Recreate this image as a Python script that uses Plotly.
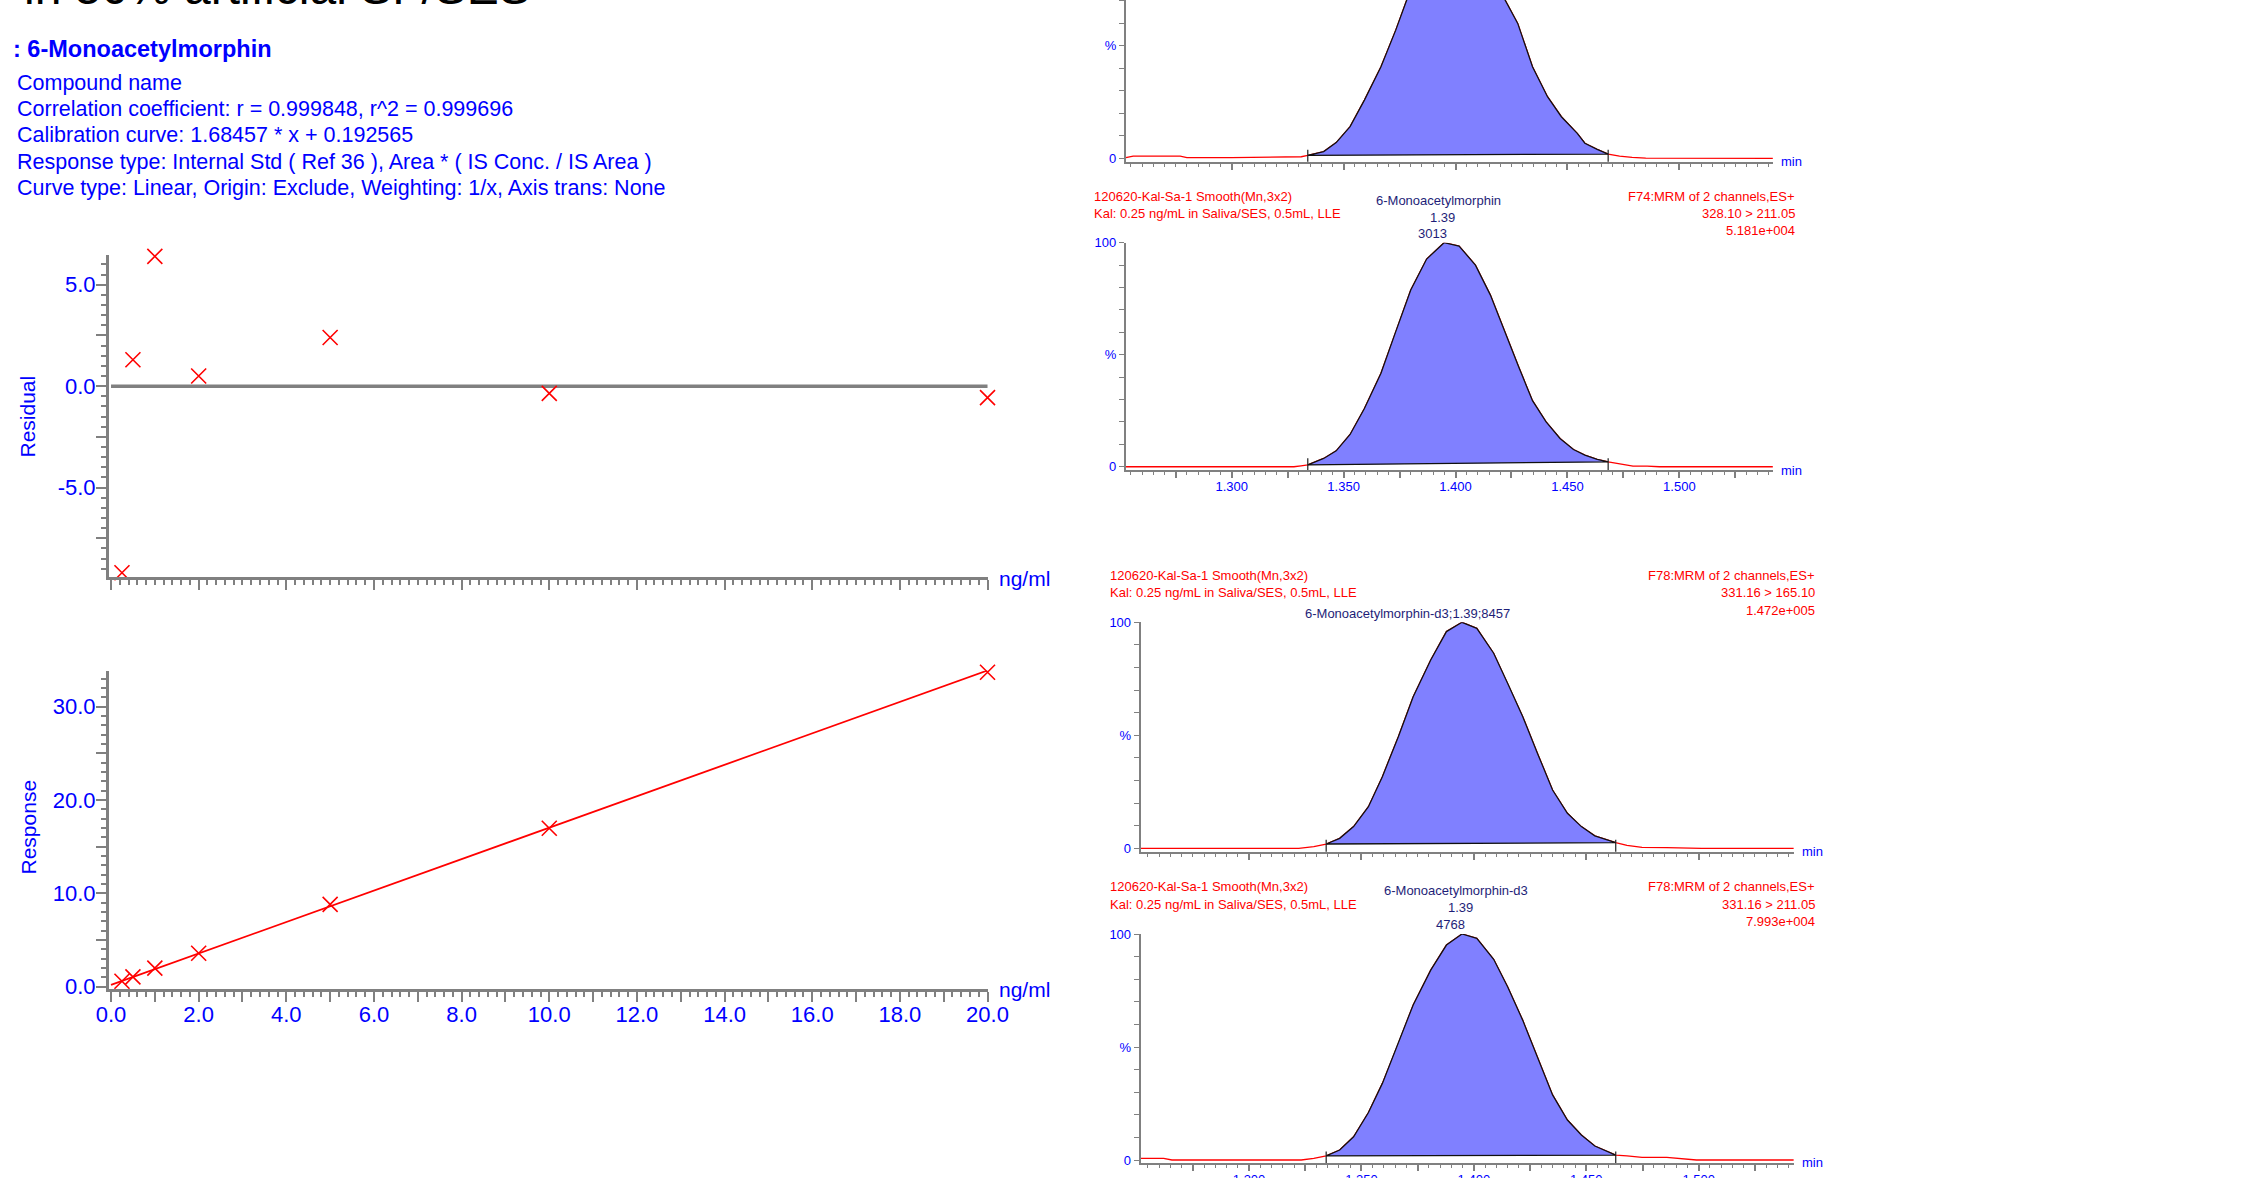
import plotly.graph_objects as go

W, H = 2268, 1178
FONT = "Liberation Sans, Arial, Helvetica, sans-serif"
BLUE = "#0000FF"
RED = "#FF0000"
NAVY = "#1E1E78"
GRAY = "#808080"
FILL = "#8080FF"

# ---------------- calibration data ----------------
CONC = [0.25, 0.5, 1.0, 2.0, 5.0, 10.0, 20.0]
RESIDUAL = [-9.2, 1.3, 6.4, 0.5, 2.4, -0.36, -0.57]
RESPONSE = [0.58, 1.05, 1.99, 3.58, 8.82, 16.98, 33.69]
SLOPE = 1.68457
INTERCEPT = 0.192565

CONC_TICKS = list(range(0, 21))
CONC_TICK_LABELS = [f"{v:.1f}" if v % 2 == 0 else "" for v in CONC_TICKS]
RES_TICKS = [-7.5, -5.0, -2.5, 0.0, 2.5, 5.0]
RES_TICK_LABELS = ["", "-5.0", "", "0.0", "", "5.0"]
RESP_TICKS = [0, 5, 10, 15, 20, 25, 30]
RESP_TICK_LABELS = ["0.0", "", "10.0", "", "20.0", "", "30.0"]

INFO_TITLE = ": 6-Monoacetylmorphin"
INFO_LINES = [
    "Compound name",
    "Correlation coefficient: r = 0.999848, r^2 = 0.999696",
    "Calibration curve: 1.68457 * x + 0.192565",
    "Response type: Internal Std ( Ref 36 ), Area * ( IS Conc. / IS Area )",
    "Curve type: Linear, Origin: Exclude, Weighting: 1/x, Axis trans: None",
]
TOP_TITLE = "in 50% artificial SF/SES"

# ---------------- chromatogram data ----------------
P1_TIME = [1.2527, 1.2560, 1.2770, 1.2800, 1.3000, 1.3311, 1.3340, 1.3411, 1.3467, 1.3529,
           1.3593, 1.3667, 1.3733, 1.3778, 1.3810, 1.3880, 1.3950, 1.4020, 1.4090, 1.4156,
           1.4222, 1.4278, 1.4344, 1.4411, 1.4473, 1.4544, 1.4578, 1.4633, 1.4682, 1.4733,
           1.4789, 1.4850, 1.5418]
P1_INT = [0.3, 1.0, 1.0, 0.3, 0.3, 0.7, 1.3, 3.0, 7.0, 14.1,
          25.9, 40.7, 57.0, 70.3, 78.0, 93.0, 100.0, 98.0, 90.0, 80.0,
          70.3, 60.0, 40.7, 27.4, 18.5, 11.1, 6.7, 4.0, 1.9, 1.0,
          0.4, 0.1, 0.0]
P1_INTEG = [1.3340, 1.4682]

P2_TIME = [1.2527, 1.3278, 1.3310, 1.3340, 1.3411, 1.3467, 1.3529, 1.3593, 1.3667, 1.3733,
           1.3800, 1.3871, 1.3949, 1.4016, 1.4089, 1.4156, 1.4222, 1.4282, 1.4344, 1.4404,
           1.4467, 1.4527, 1.4578, 1.4633, 1.4682, 1.4733, 1.4793, 1.4856, 1.4911, 1.5418]
P2_INT = [0.0, 0.0, 0.4, 0.8, 3.7, 7.1, 14.4, 26.0, 41.7, 60.3,
          78.9, 92.7, 100.0, 98.5, 90.0, 76.6, 59.5, 44.6, 29.5, 20.1,
          12.6, 7.7, 5.2, 3.3, 2.2, 1.2, 0.3, 0.3, 0.0, 0.0]
P2_INTEG = [1.3340, 1.4682]

P3_TIME = [1.2518, 1.3221, 1.3288, 1.3343, 1.3403, 1.3465, 1.3531, 1.3593, 1.3664, 1.3730,
           1.3808, 1.3878, 1.3947, 1.4013, 1.4088, 1.4150, 1.4217, 1.4283, 1.4350, 1.4416,
           1.4478, 1.4538, 1.4597, 1.4631, 1.4681, 1.4748, 1.4858, 1.5013, 1.5423]
P3_INT = [0.0, 0.0, 0.7, 1.9, 4.4, 9.6, 18.4, 31.7, 49.4, 67.1,
          83.3, 95.9, 100.0, 97.3, 86.3, 73.0, 58.3, 42.0, 25.8, 15.5,
          9.6, 5.5, 3.4, 2.5, 1.3, 0.4, 0.3, 0.0, 0.0]
P3_INTEG = [1.3343, 1.4631]

P4_TIME = [1.2518, 1.2620, 1.2657, 1.3232, 1.3288, 1.3343, 1.3403, 1.3465, 1.3531, 1.3593,
           1.3664, 1.3730, 1.3808, 1.3878, 1.3947, 1.4013, 1.4088, 1.4150, 1.4217, 1.4283,
           1.4350, 1.4416, 1.4478, 1.4538, 1.4597, 1.4631, 1.4681, 1.4748, 1.4858, 1.4925,
           1.4990, 1.5423]
P4_INT = [0.7, 0.7, 0.0, 0.0, 0.7, 1.8, 4.4, 10.3, 21.0, 33.9,
          51.6, 68.6, 84.0, 95.1, 100.0, 98.1, 88.8, 76.7, 61.9, 45.7,
          28.8, 17.7, 11.1, 6.2, 3.7, 2.2, 1.8, 1.2, 1.2, 0.7,
          0.0, 0.0]
P4_INTEG = [1.3343, 1.4631]

CHROM_TICKS = [1.275, 1.300, 1.325, 1.350, 1.375, 1.400, 1.425, 1.450, 1.475, 1.500, 1.525]
CHROM_TICK_LABELS = ["", "1.300", "", "1.350", "", "1.400", "", "1.450", "", "1.500", ""]
PCT_TICKS = [0, 10, 20, 30, 40, 50, 60, 70, 80, 90, 100]
PCT_TICK_LABELS = ["0", "", "", "", "", "%", "", "", "", "", "100"]

HEADER_LEFT = ["120620-Kal-Sa-1 Smooth(Mn,3x2)", "Kal: 0.25 ng/mL in Saliva/SES, 0.5mL, LLE"]
P2_RIGHT = ["F74:MRM of 2 channels,ES+", "328.10 > 211.05", "5.181e+004"]
P3_RIGHT = ["F78:MRM of 2 channels,ES+", "331.16 > 165.10", "1.472e+005"]
P4_RIGHT = ["F78:MRM of 2 channels,ES+", "331.16 > 211.05", "7.993e+004"]
P2_LABEL = ["6-Monoacetylmorphin", "1.39", "3013"]
P3_LABEL = ["6-Monoacetylmorphin-d3;1.39;8457"]
P4_LABEL = ["6-Monoacetylmorphin-d3", "1.39", "4768"]


def xd(a, b):
    return [a / W, b / W]


def yd(top, bottom):
    return [max(0.0, 1 - bottom / H), min(1.0, 1 - top / H)]


def px(x):
    return x / W


def py(y):
    return 1 - y / H


fig = go.Figure()

# ---------------- calibration traces ----------------
fig.add_trace(go.Scatter(x=CONC, y=RESIDUAL, mode="markers", xaxis="x", yaxis="y",
                         marker=dict(symbol="x-thin", size=15, line=dict(color=RED, width=1.6)),
                         cliponaxis=False, showlegend=False))
fit_x = [0.0, max(CONC)]
fit_y = [SLOPE * v + INTERCEPT for v in fit_x]
fig.add_trace(go.Scatter(x=fit_x, y=fit_y, mode="lines", xaxis="x2", yaxis="y2",
                         line=dict(color=RED, width=1.8), showlegend=False))
fig.add_trace(go.Scatter(x=CONC, y=RESPONSE, mode="markers", xaxis="x2", yaxis="y2",
                         marker=dict(symbol="x-thin", size=15, line=dict(color=RED, width=1.6)),
                         cliponaxis=False, showlegend=False))

fig.add_shape(type="line", xref="x", yref="y", x0=0, x1=max(CONC), y0=0, y1=0,
              line=dict(color=GRAY, width=3.5), layer="below")


# ---------------- chromatogram traces ----------------
def add_chrom(times, ints, integ, xa, ya):
    fig.add_trace(go.Scatter(x=times, y=ints, mode="lines", xaxis=xa, yaxis=ya,
                             line=dict(color=RED, width=1.3), showlegend=False))
    seg = [(t, v) for t, v in zip(times, ints) if integ[0] - 1e-9 <= t <= integ[1] + 1e-9]
    sx = [p[0] for p in seg] + [seg[0][0]]
    sy = [p[1] for p in seg] + [seg[0][1]]
    fig.add_trace(go.Scatter(x=sx, y=sy, mode="lines", fill="toself", fillcolor=FILL,
                             xaxis=xa, yaxis=ya, line=dict(color="#101010", width=1.3),
                             showlegend=False))
    for t in integ:
        fig.add_trace(go.Scatter(x=[t, t], y=[-2.2, 3.8], mode="lines", xaxis=xa, yaxis=ya,
                                 line=dict(color="#202020", width=1.2), cliponaxis=False,
                                 showlegend=False))


add_chrom(P1_TIME, P1_INT, P1_INTEG, "x3", "y3")
add_chrom(P2_TIME, P2_INT, P2_INTEG, "x4", "y4")
add_chrom(P3_TIME, P3_INT, P3_INTEG, "x5", "y5")
add_chrom(P4_TIME, P4_INT, P4_INTEG, "x6", "y6")


# ---------------- axes ----------------
def cal_axis(domain, rng, anchor, tickvals, ticktext, mdt, labels=True, standoff=-4):
    return dict(domain=domain, range=rng, anchor=anchor, showline=True, linecolor=GRAY,
                linewidth=3, ticks="outside", tickcolor=GRAY, tickwidth=2, ticklen=10,
                tickmode="array", tickvals=tickvals, ticktext=ticktext, automargin=False,
                showticklabels=labels, tickfont=dict(family=FONT, size=22, color=BLUE),
                ticklabelstandoff=standoff,
                showgrid=False, zeroline=False, fixedrange=True,
                minor=dict(tickmode="linear", tick0=0, dtick=mdt, ticklen=5, tickwidth=1.5,
                           tickcolor=GRAY, ticks="outside", showgrid=False))


def chrom_x(domain, rng, anchor, labels):
    return dict(domain=domain, range=rng, anchor=anchor, showline=True, linecolor=GRAY,
                linewidth=2, ticks="outside", tickcolor=GRAY, tickwidth=1.5, ticklen=6,
                tickmode="array", tickvals=CHROM_TICKS, ticktext=CHROM_TICK_LABELS,
                showticklabels=labels, tickfont=dict(family=FONT, size=13, color=BLUE),
                ticklabelstandoff=-3,
                showgrid=False, zeroline=False, fixedrange=True, automargin=False,
                minor=dict(tickmode="linear", tick0=1.25, dtick=0.005, ticklen=3, tickwidth=1,
                           tickcolor=GRAY, ticks="outside", showgrid=False))


def chrom_y(domain, rng, anchor):
    return dict(domain=domain, range=rng, anchor=anchor, showline=True, linecolor=GRAY,
                linewidth=2, ticks="outside", tickcolor=GRAY, tickwidth=1.2, ticklen=5,
                tickmode="array", tickvals=PCT_TICKS, ticktext=PCT_TICK_LABELS,
                tickfont=dict(family=FONT, size=13, color=BLUE), automargin=False,
                showgrid=False, zeroline=False, fixedrange=True)


layout = dict(
    width=W, height=H, margin=dict(l=0, r=0, t=0, b=0, autoexpand=False),
    paper_bgcolor="white", plot_bgcolor="white", showlegend=False,
    font=dict(family=FONT, color=BLUE),
    xaxis=cal_axis(xd(109, 988), [-0.046, 20.011], "y", CONC_TICKS, CONC_TICK_LABELS, 0.2, labels=False),
    yaxis=cal_axis(yd(255.3, 577), [-9.41, 6.45], "x", RES_TICKS, RES_TICK_LABELS, 0.5),
    xaxis2=cal_axis(xd(109, 988), [-0.046, 20.011], "y2", CONC_TICKS, CONC_TICK_LABELS, 0.2, standoff=-6),
    yaxis2=cal_axis(yd(670.7, 989), [-0.25, 33.86], "x2", RESP_TICKS, RESP_TICK_LABELS, 1.0),
    xaxis3=chrom_x(xd(1125.8, 1772.9), [1.2527, 1.5418], "y3", False),
    yaxis3=chrom_y(yd(0, 161.7), [-1.5, 70.4], "x3"),
    xaxis4=chrom_x(xd(1125.8, 1772.9), [1.2527, 1.5418], "y4", True),
    yaxis4=chrom_y(yd(242.7, 470.1), [-1.5, 100], "x4"),
    xaxis5=chrom_x(xd(1140.7, 1793.8), [1.2518, 1.5423], "y5", False),
    yaxis5=chrom_y(yd(622.3, 851.7), [-1.5, 100], "x5"),
    xaxis6=chrom_x(xd(1140.7, 1793.8), [1.2518, 1.5423], "y6", True),
    yaxis6=chrom_y(yd(934, 1163.4), [-1.5, 100], "x6"),
)
fig.update_layout(**layout)

# ---------------- annotations ----------------
anns = []


def ann(text, x, y, xanchor="left", size=13, color=BLUE, bold=False, angle=0, yanchor="middle"):
    t = f"<b>{text}</b>" if bold else text
    anns.append(dict(text=t, x=px(x), y=py(y), xref="paper", yref="paper", xanchor=xanchor,
                     yanchor=yanchor, showarrow=False, textangle=angle,
                     font=dict(family=FONT, size=size, color=color)))


ann(TOP_TITLE, 22, 16, size=48, color="black", yanchor="bottom")
ann(INFO_TITLE, 11, 49.5, size=23.5, bold=True)
for i, line in enumerate(INFO_LINES):
    ann(line, 15, 82.7 + i * 26.3, size=21.5)

ann("Residual", 27.5, 417, xanchor="center", size=21, angle=-90)
ann("Response", 27.5, 827, xanchor="center", size=21, angle=-90)
ann("ng/ml", 997, 578, size=21)
ann("ng/ml", 997, 989, size=21)

# chromatogram "min" labels
ann("min", 1779, 161, size=13)
ann("min", 1779, 470, size=13)
ann("min", 1800, 851, size=13)
ann("min", 1800, 1162, size=13)

# headers
for i, line in enumerate(HEADER_LEFT):
    ann(line, 1092, 196.7 + i * 16.8, size=13, color=RED)
    ann(line, 1108, 575 + i * 17.6, size=13, color=RED)
    ann(line, 1108, 886.7 + i * 17.6, size=13, color=RED)
for i, line in enumerate(P2_RIGHT):
    ann(line, 1797, 196.7 + i * 17.1, xanchor="right", size=13, color=RED)
for i, line in enumerate(P3_RIGHT):
    ann(line, 1817, 575 + i * 17.5, xanchor="right", size=13, color=RED)
for i, line in enumerate(P4_RIGHT):
    ann(line, 1817, 886.7 + i * 17.5, xanchor="right", size=13, color=RED)

for (txt, cx, cy) in zip(P2_LABEL, [1438, 1442, 1432], [200, 217.3, 234]):
    ann(txt, cx, cy, xanchor="center", size=13, color=NAVY)
ann(P3_LABEL[0], 1407, 613.3, xanchor="center", size=13, color=NAVY)
for (txt, cx, cy) in zip(P4_LABEL, [1455.5, 1460.5, 1450.6], [890.7, 907.3, 924]):
    ann(txt, cx, cy, xanchor="center", size=13, color=NAVY)

fig.update_layout(annotations=anns)
fig.write_html("out.html", config={"displayModeBar": False},
               post_script="document.body.style.margin='0px';")
